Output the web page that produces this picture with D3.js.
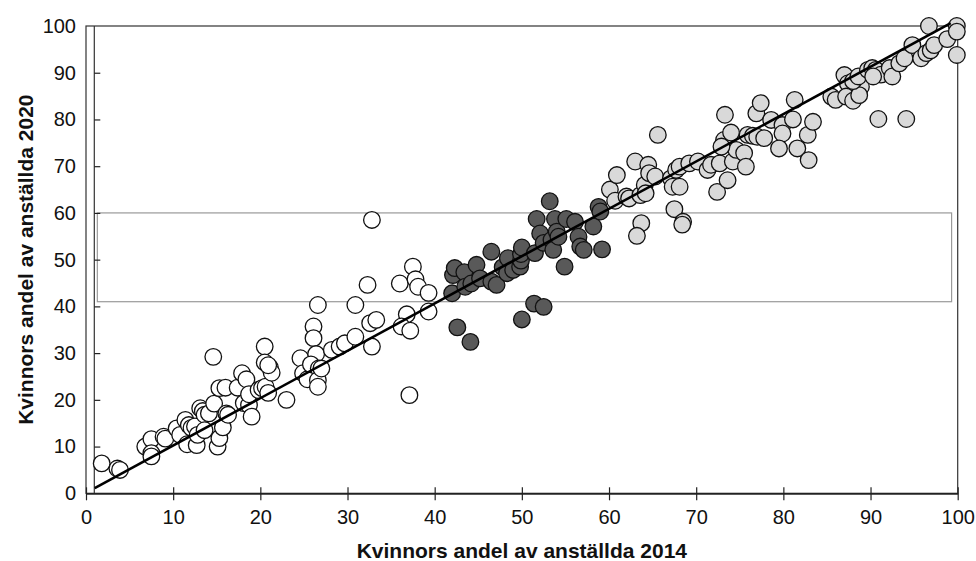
<!DOCTYPE html>
<html><head><meta charset="utf-8">
<script src="https://cdn.jsdelivr.net/npm/d3@7"></script>
<style>body{margin:0;background:#fff}svg{display:block}</style>
</head><body>
<svg id="c" width="976" height="561"></svg>
<script>
const xTicks=[0,10,20,30,40,50,60,70,80,90,100];
const yTicks=[0,10,20,30,40,50,60,70,80,90,100];
const xTitle="Kvinnors andel av anställda 2014";
const yTitle="Kvinnors andel av anställda 2020";
const regX=[1.0,99.2];
const regY=[1.1,100.6];
const boxX=[1.3,99.3];
const boxY=[41,60];
const groupLow=[[1.8,6.4],[3.6,5.3],[3.9,5.0],[6.8,10.0],[7.5,11.6],[7.5,8.6],[7.5,7.9],[8.9,12.1],[9.1,11.7],
[10.4,13.9],[10.8,12.5],[11.4,15.7],[11.6,10.5],[11.8,14.6],[12.1,14.0],[12.5,14.3],[12.7,10.3],[12.8,12.5],
[13.1,18.2],[13.4,17.6],[13.6,16.8],[13.6,13.5],[14.1,17.1],[14.6,29.2],[14.7,19.2],
[15.1,10.0],[15.3,11.8],[15.3,22.5],[15.7,14.1],[16.1,17.1],[16.3,16.8],[16.0,22.6],
[17.4,22.6],[17.9,25.7],[18.4,24.4],[18.1,19.3],[18.7,18.9],[19.0,16.4],[18.7,21.2],
[19.8,22.1],[20.2,22.5],[20.6,22.8],[20.5,31.4],[20.5,28.0],[20.9,21.5],[21.1,26.9],[21.3,25.8],[20.9,27.4],
[23.0,20.0],[24.6,28.9],[24.9,25.7],[25.4,24.4],[26.1,35.7],[26.1,33.2],[26.6,40.3],[26.4,29.8],[25.8,27.6],
[26.7,26.7],[26.6,24.2],[26.6,22.8],[27.0,26.7],[28.2,30.7],[29.1,31.4],[29.7,32.1],
[30.9,33.5],[30.9,40.3],[32.3,44.6],[32.8,31.4],[32.6,36.4],[33.3,37.1],[32.8,58.5],
[36.0,44.9],[36.8,38.3],[36.2,35.7],[37.2,34.8],[37.5,48.5],[37.8,45.8],[38.1,44.2],[37.1,21.0],[39.3,42.9],[39.3,38.9]];
const groupMid=[[42.0,42.8],[42.1,46.7],[42.3,48.2],[43.4,47.3],[43.5,44.2],[44.2,44.9],[44.8,48.9],[45.2,46.0],
[46.5,51.7],[46.5,45.3],[47.1,44.6],[47.8,48.4],[48.3,47.1],[48.4,50.3],[49.0,47.8],[49.8,48.5],[49.9,49.8],
[49.9,51.2],[50.0,52.6],[51.5,51.4],[51.7,58.7],[52.1,55.6],[52.5,53.6],[53.2,62.5],[53.4,54.2],[53.6,52.1],
[53.8,58.7],[54.0,56.0],[54.2,54.9],[54.9,48.5],[55.1,58.7],[56.1,58.1],[56.5,54.9],[56.7,52.8],[57.1,52.1],
[58.2,57.1],[58.8,61.3],[59.0,60.3],[59.2,52.2],[51.4,40.6],[52.5,39.9],[50.0,37.2],[42.6,35.5],[44.1,32.4]];
const groupHigh=[[60.1,65.0],[60.7,62.6],[60.9,68.1],[62.0,63.5],[62.3,63.1],[63.6,63.8],[63.0,71.0],[64.5,70.3],
[64.1,66.0],[64.2,64.2],[64.6,68.5],[65.3,67.8],[65.6,76.7],[63.7,57.8],[63.2,55.1],
[67.1,67.4],[67.3,65.6],[68.1,65.6],[67.5,60.8],[68.5,58.1],[68.4,57.5],[67.7,69.2],[68.1,69.9],[69.2,70.6],[70.2,71.0],
[71.3,69.2],[71.7,70.3],[72.7,70.6],[72.4,64.5],[73.6,67.0],[74.2,71.0],[74.6,73.5],[75.5,72.8],[75.7,69.9],
[73.2,75.6],[72.9,74.2],[74.0,77.2],[73.3,81.0],[75.9,76.7],[76.5,76.5],[77.0,76.3],[77.8,76.0],[76.9,81.3],[77.4,83.5],
[78.6,79.9],[79.9,78.8],[79.9,77.0],[79.5,73.8],[81.1,80.0],[81.3,84.2],[81.6,73.8],[82.8,76.7],[83.4,79.5],[82.9,71.3],
[85.5,84.9],[86.0,84.2],[87.0,89.5],[87.4,87.7],[87.2,84.9],[88.0,84.0],[88.9,87.0],[88.7,85.2],[88.0,88.2],[88.6,89.2],[89.7,90.6],
[90.2,91.0],[90.6,90.6],[91.2,89.6],[90.3,89.2],[92.2,91.0],[92.5,89.2],[93.3,92.0],[93.9,93.1],[94.8,95.9],[95.8,93.1],
[96.4,94.2],[96.9,94.8],[97.3,95.9],[98.8,97.2],[96.7,100],[99.9,100],[99.9,98.8],[99.9,93.8],[90.9,80.1],[94.1,80.1]];

const svg=d3.select("#c");
const x=d3.scaleLinear().domain([0,100]).range([86,957.7]);
const y=d3.scaleLinear().domain([0,100]).range([493.3,26]);
const font="'Liberation Sans', Arial, sans-serif";

// frame
svg.append("rect").attr("x",x(0)).attr("y",y(100)).attr("width",x(100)-x(0)).attr("height",y(0)-y(100))
  .attr("fill","none").attr("stroke","#333").attr("stroke-width",1.2);
// inner vertical line
svg.append("line").attr("x1",94.3).attr("x2",94.3).attr("y1",y(100)).attr("y2",y(0)).attr("stroke","#333").attr("stroke-width",1.2);
// gray box
svg.append("rect").attr("x",x(boxX[0])).attr("y",y(boxY[1])).attr("width",x(boxX[1])-x(boxX[0])).attr("height",y(boxY[0])-y(boxY[1]))
  .attr("fill","none").attr("stroke","#9a9a9a").attr("stroke-width",1.2);

// x axis
const gx=svg.append("g").attr("transform",`translate(0,${y(0)})`)
  .call(d3.axisBottom(x).tickValues(xTicks).tickSize(7).tickPadding(10).tickSizeOuter(0));
gx.select(".domain").attr("stroke","#222").attr("stroke-width",1.8);
gx.selectAll(".tick line").attr("y1",-6).attr("stroke","#222").attr("stroke-width",1.2);
gx.selectAll("text").attr("font-family",font).attr("font-size",20).attr("fill","#111");

// y axis labels
const gy=svg.append("g").attr("transform",`translate(${x(0)},0)`)
  .call(d3.axisLeft(y).tickValues(yTicks).tickSize(0).tickPadding(10));
gy.select(".domain").remove();
gy.selectAll("text").attr("font-family",font).attr("font-size",20).attr("fill","#111");
// y tick marks
const gy2=svg.append("g").attr("transform",`translate(94.3,0)`)
  .call(d3.axisRight(y).tickValues(yTicks.filter(v=>v>0&&v<100)).tickSize(6).tickFormat(""));
gy2.select(".domain").remove();
gy2.selectAll(".tick line").attr("stroke","#222").attr("stroke-width",1.2);

// titles
svg.append("text").attr("x",(x(0)+x(100))/2).attr("y",558).attr("text-anchor","middle")
  .attr("font-family",font).attr("font-weight","bold").attr("font-size",21).attr("fill","#111").text(xTitle);
svg.append("text").attr("transform",`translate(33,${(y(0)+y(100))/2}) rotate(-90)`).attr("text-anchor","middle")
  .attr("font-family",font).attr("font-weight","bold").attr("font-size",21).attr("fill","#111").text(yTitle);

// points
const groups=[[groupLow,"#ffffff"],[groupMid,"#595959"],[groupHigh,"#d9d9d9"]];
groups.forEach(([data,fill])=>{
  svg.append("g").selectAll("circle").data(data).join("circle")
    .attr("cx",d=>x(d[0])).attr("cy",d=>y(d[1])).attr("r",8.3)
    .attr("fill",fill).attr("stroke","#111").attr("stroke-width",1.3);
});

// regression line
svg.append("line").attr("x1",x(regX[0])).attr("y1",y(regY[0])).attr("x2",x(regX[1])).attr("y2",y(regY[1]))
  .attr("stroke","#000").attr("stroke-width",2.6);
</script>
</body></html>
